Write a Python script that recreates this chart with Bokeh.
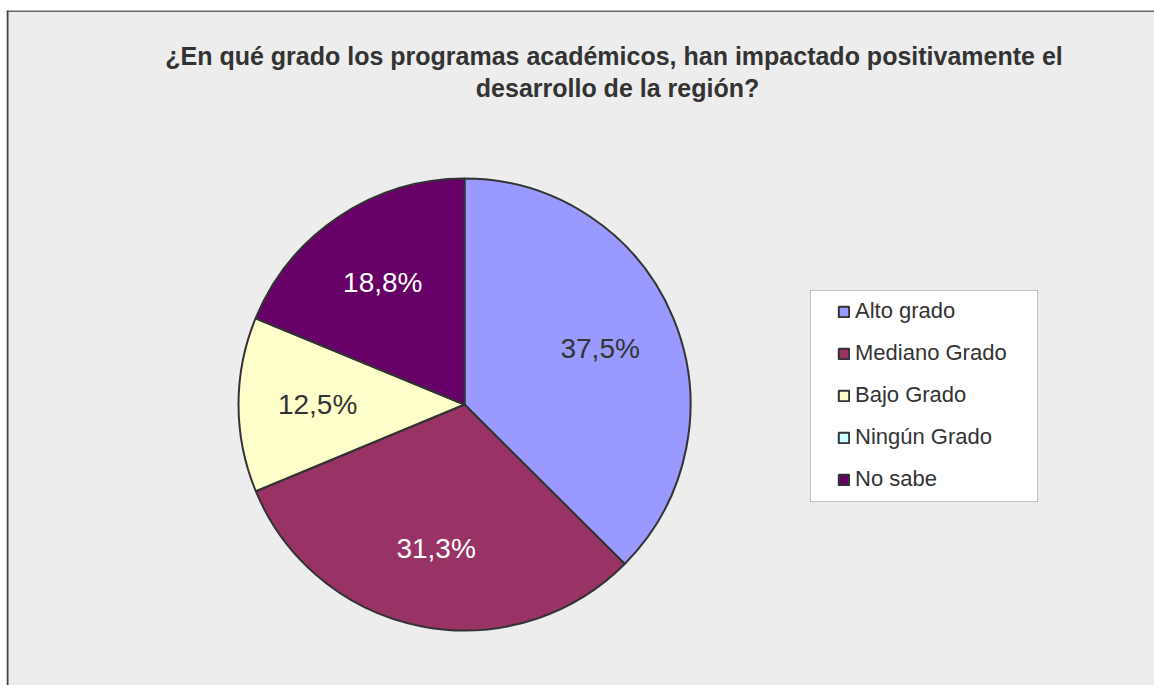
import math
from bokeh.plotting import figure
from bokeh.models import Range1d, Legend, LegendItem, BoxAnnotation, Label, ColumnDataSource, Span
from bokeh.embed import file_html
from bokeh.resources import INLINE

# ---- data ----
title_lines = ["¿En qué grado  los programas académicos, han impactado positivamente el",
               "desarrollo de la región?"]
categories = ["Alto grado", "Mediano Grado", "Bajo Grado", "Ningún Grado", "No sabe"]
percentages = [37.5, 31.3, 12.5, 0.0, 18.8]
label_texts = ["37,5%", "31,3%", "12,5%", "0,0%", "18,8%"]
colors = ["#9999FF", "#993366", "#FFFFCC", "#CCFFFF", "#660066"]

# ---- layout (pixel-mapped data space) ----
W, H = 1154, 685
LEFT, TOP = 6, 10
FW, FH = W - LEFT, H - TOP
p = figure(width=W, height=H, output_backend="svg", toolbar_location=None,
           x_range=Range1d(0, FW), y_range=Range1d(0, FH),
           x_axis_location=None, y_axis_location=None,
           min_border_left=LEFT, min_border_right=0, min_border_top=TOP, min_border_bottom=0,
           background_fill_color="#EDEDED", border_fill_color="white",
           outline_line_color=None)
p.grid.visible = False

def px(page_x):
    return page_x - LEFT

def py(page_y):
    return H - page_y

cx, cy, R = px(464), py(404), 226

# border lines (left and top)
p.add_layout(Span(location=1, dimension="height", line_color="#404040", line_width=2))
p.add_layout(Span(location=FH - 0.5, dimension="width", line_color="#404040", line_width=1.5))

# ---- pie ----
total = sum(percentages)
starts, ends, mids = [], [], []
cum = 0.0
for v in percentages:
    a0 = math.pi / 2 - 2 * math.pi * cum / total
    cum += v
    a1 = math.pi / 2 - 2 * math.pi * cum / total
    starts.append(a0)
    ends.append(a1)
    mids.append((a0 + a1) / 2)

nz = [i for i, v in enumerate(percentages) if v > 0]
wsrc = ColumnDataSource(dict(
    x=[cx] * len(nz), y=[cy] * len(nz),
    start=[starts[i] for i in nz], end=[ends[i] for i in nz],
    color=[colors[i] for i in nz]))
p.wedge(x="x", y="y", radius=R, start_angle="start", end_angle="end",
        direction="clock", fill_color="color", line_color="#333333",
        line_width=2, source=wsrc)

# data labels
def is_dark(hexc):
    r, g, b = int(hexc[1:3], 16), int(hexc[3:5], 16), int(hexc[5:7], 16)
    return 0.299 * r + 0.587 * g + 0.114 * b < 128

lr = 0.65 * R
for i in nz:
    p.add_layout(Label(x=cx + lr * math.cos(mids[i]), y=cy + lr * math.sin(mids[i]),
                       text=label_texts[i], text_align="center", text_baseline="middle",
                       text_font="Liberation Sans", text_font_size="28px",
                       text_color="white" if is_dark(colors[i]) else "#333333"))

# title
for k, line in enumerate(title_lines):
    p.add_layout(Label(x=px(617), y=py(55 + 32 * k), text=line,
                       text_align="center", text_baseline="middle",
                       text_font="Liberation Sans", text_font_size="25px",
                       text_font_style="bold", text_color="#333333"))

# ---- legend ----
p.add_layout(BoxAnnotation(left=px(810), right=px(1037), top=py(290), bottom=py(501),
                           fill_color="white", fill_alpha=1.0,
                           line_color="#404040", line_width=1, level="underlay"))
nan = float("nan")
lsrc = ColumnDataSource(dict(l=[nan] * len(categories), r=[nan] * len(categories),
                             t=[nan] * len(categories), b=[nan] * len(categories),
                             color=colors))
leg_r = p.quad(left="l", right="r", top="t", bottom="b", fill_color="color",
               line_color="#333333", line_width=2, source=lsrc)
legend = Legend(items=[LegendItem(label=c, renderers=[leg_r], index=i)
                       for i, c in enumerate(categories)],
                location=(px(837), py(501) + 9),
                padding=0, margin=0, spacing=16,
                glyph_width=13, glyph_height=13, label_height=26, label_standoff=5,
                label_text_font="Liberation Sans", label_text_font_size="22px",
                label_text_color="#333333",
                background_fill_alpha=0, border_line_color=None)
p.add_layout(legend)

open("out.html", "w").write(file_html(p, INLINE))
